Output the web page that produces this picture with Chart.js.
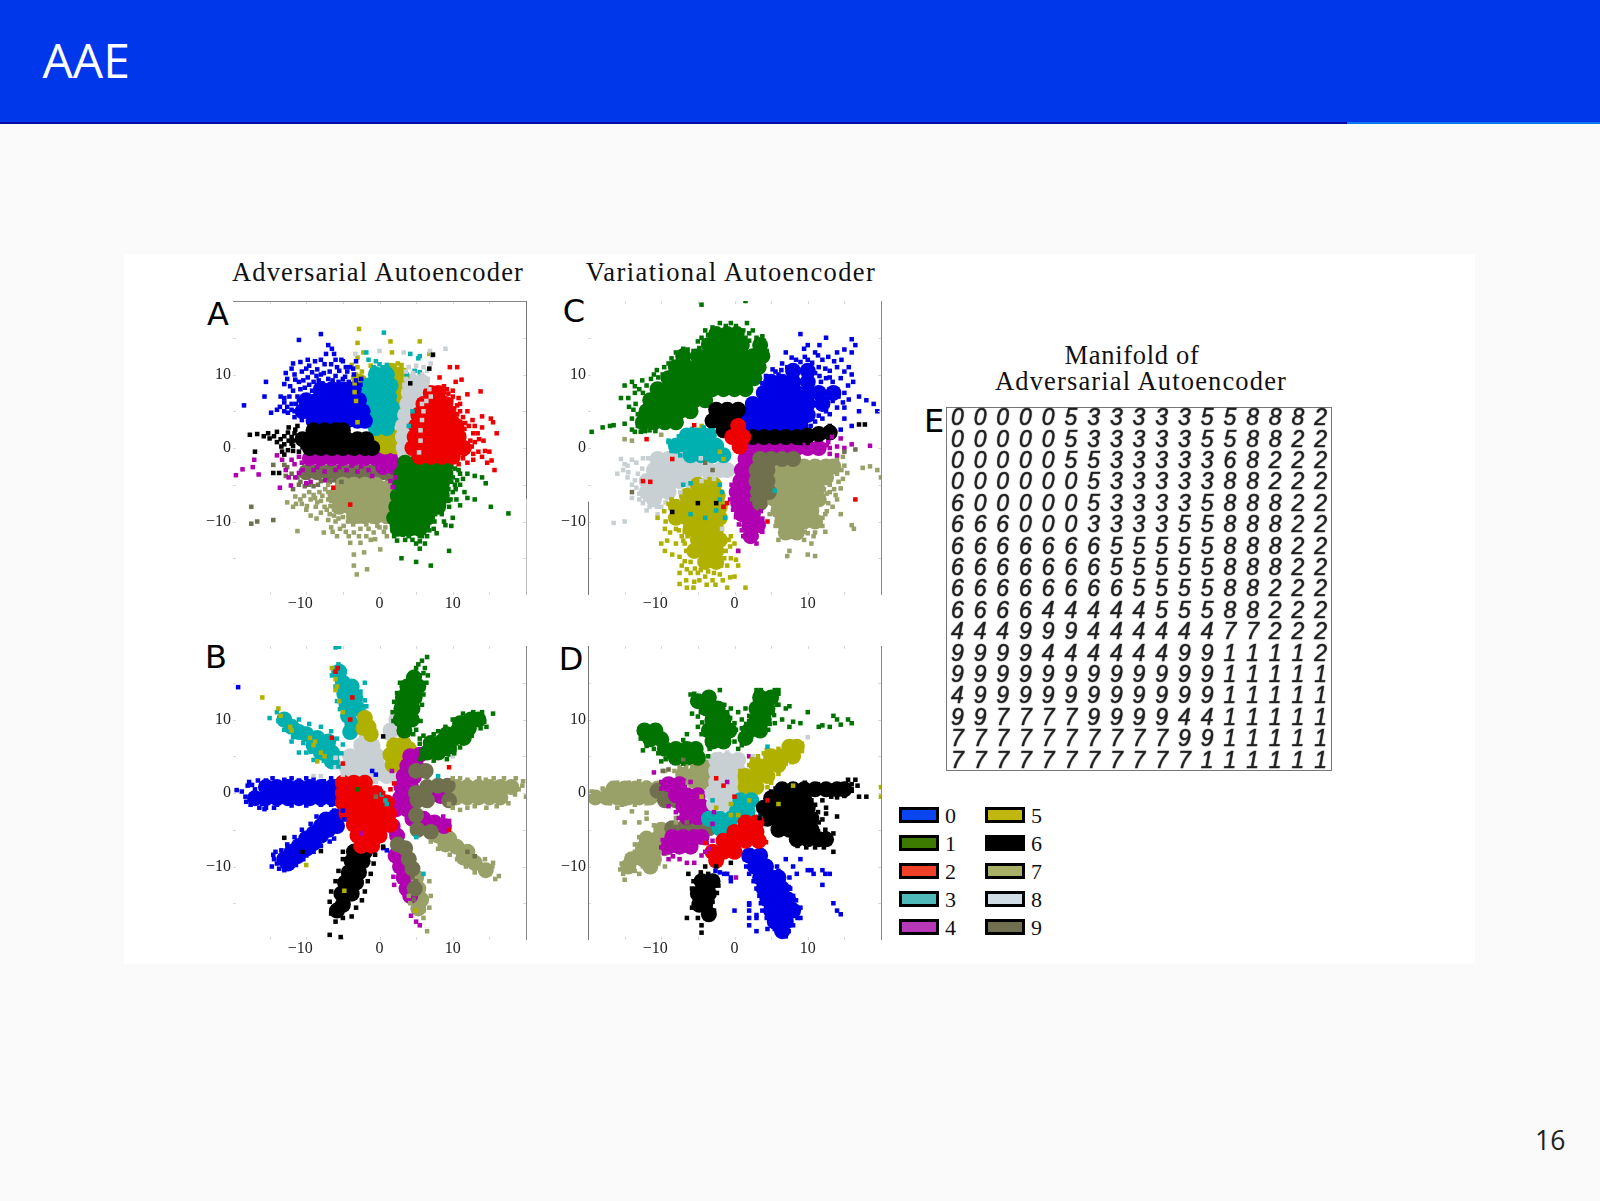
<!DOCTYPE html>
<html>
<head>
<meta charset="utf-8">
<title>AAE</title>
<script src="https://cdn.jsdelivr.net/npm/chart.js@4"></script>
<style>
  html, body { margin: 0; padding: 0; }
  body { width: 1600px; height: 1201px; background: #fafafa; position: relative; overflow: hidden; font-family: "Open Sans", sans-serif; }
  #header { position: absolute; left: 0; top: 0; width: 1600px; height: 122px; background: #0037ea; border-bottom: 2px solid #0808a8; }
  #header-accent { position: absolute; left: 1347px; top: 122px; width: 253px; height: 2px; background: #0a78f0; }
  #slide-title { position: absolute; left: 42.5px; top: 30px; color: #fff; font-size: 48px; line-height: 60px; }
  #page-number { position: absolute; left: 1535px; top: 1122px; color: #222; font-size: 26.5px; line-height: 36px; }
  #paper { position: absolute; left: 124px; top: 254px; width: 1351px; height: 710px; background: #fff; }
  canvas { position: absolute; }
  .caption { position: absolute; font-family: "Liberation Serif", serif; font-size: 26.5px; line-height: 30px; color: #111; white-space: nowrap; transform: translate(-50%, -50%); letter-spacing: 1.15px; }
  .letter { position: absolute; font-family: "DejaVu Sans", sans-serif; font-size: 32px; line-height: 36px; color: #000; transform: translate(-50%, -50%); }
  .swatch { position: absolute; width: 34px; height: 10px; border: 3px solid #000; }
  .swatch-label { position: absolute; font-family: "Liberation Serif", serif; font-size: 22px; line-height: 24px; color: #111; }
</style>
</head>
<body>
<div id="header"></div>
<div id="header-accent"></div>
<div id="slide-title">AAE</div>
<div id="paper"></div>
<div class="caption" style="left:378px;top:272px">Adversarial Autoencoder</div>
<div class="caption" style="left:731px;top:272px;letter-spacing:1.4px">Variational Autoencoder</div>
<div class="caption" style="left:1132px;top:355px;letter-spacing:0.7px">Manifold of</div>
<div class="caption" style="left:1141px;top:381px">Adversarial Autoencoder</div>
<div class="letter" style="left:218px;top:314px">A</div>
<div class="letter" style="left:216px;top:657px">B</div>
<div class="letter" style="left:574px;top:311px">C</div>
<div class="letter" style="left:571px;top:659px">D</div>
<div class="letter" style="left:934px;top:421px">E</div>
<div id="page-number">16</div>
<div id="legend"></div>
<canvas id="panelA" width="340" height="330" style="left:193px;top:296px"></canvas>
<canvas id="panelB" width="340" height="330" style="left:193px;top:641px"></canvas>
<canvas id="panelC" width="340" height="330" style="left:548px;top:296px"></canvas>
<canvas id="panelD" width="340" height="330" style="left:548px;top:641px"></canvas>
<canvas id="manifold" width="386" height="364" style="left:946px;top:407px"></canvas>
<script>
const classLabels = ['0', '1', '2', '3', '4', '5', '6', '7', '8', '9'];
const classColors = ['#0000e6', '#007300', '#ee0000', '#00b0b0', '#b000b0', '#b0b000', '#000000', '#99a068', '#c8d0d4', '#70704f'];
const legendColors = ['#0a46f0', '#3c7a00', '#f04028', '#4fb8b8', '#b838b8', '#c0b810', '#000000', '#a8b068', '#d0dce4', '#707050'];
const tickValues = [-10, 0, 10];

// panel A, adversarial autoencoder, 2D gaussian prior
const a0Core = [[-8,8],[-6.5,8],[-5,8],[-3.5,8],[-10,6.5],[-8.5,6.5],[-7,6.5],[-5.5,6.5],[-4,6.5],[-2.8,6.5],[-10.5,5],[-9,5],[-7.5,5],[-6,5],[-4.5,5],[-3,5],[-2.3,5],[-9,3.7],[-7.5,3.7],[-6,3.7],[-4.5,3.7],[-3,3.7],[-2,3.7]];
const a0Loose = [[-18.5,5.8],[-15.5,9],[-15.7,7],[-14.8,4.8],[-14,5.2],[-13.5,7],[-13,5],[-12.5,4.8],[-12.8,10.2],[-13,8.7],[-12,10.8],[-11,9],[-11.8,7.8],[-10.5,6.5],[-11.8,11.5],[-10.8,11.7],[-9.8,12],[-8.8,11.8],[-8.5,10.7],[-7.5,11.4],[-7.3,12.8],[-6.5,13.5],[-8,10],[-6,12],[-5,11.8],[-5.5,10.5],[-4,11],[-3.5,10],[-8,15.5],[-11,14.7],[-7,14],[-9,9],[-11,6.5],[-12,6],[-10.2,8.2],[-9.8,9.6],[-11.5,9.3],[-12.3,7],[-11.6,5],[-7,9.4],[-6,9.8],[-4.7,9.7],[-2.5,9.4],[-8.3,9.2],[-6.8,10.4],[-10.6,10.4],[-9.2,10.3],[-3.2,11.8],[-13,6.2]];
const a0More = [[-13,6.8],[-12.6,5.6],[-12.2,8.4],[-11.2,7],[-10.8,8],[-11.6,10],[-10.4,9.2],[-9.6,8.6],[-9.2,7.8],[-10,10.8],[-8.6,9.8],[-7.8,8.8],[-7.6,10.2],[-6.4,9.2],[-5.6,9],[-5,9.4],[-4.2,9],[-3.2,9.2],[-2.6,8.6],[-4.4,10.4],[-5.8,11],[-6.6,11.4],[-4.6,11],[-3.6,10.8],[-13.6,5.6],[-12,5.2],[-11.6,4.2],[-10.6,3.8],[-11.4,6],[-9.6,11.2],[-8,12],[-6.2,12.8],[-5.2,12],[-12.6,9.4]];
const a1Core = [[3.5,-2],[5,-2],[6.5,-2],[8,-2],[9,-2.2],[3,-3.5],[4.5,-3.5],[6,-3.5],[7.5,-3.5],[9,-3.5],[2.8,-5],[4.3,-5],[5.8,-5],[7.3,-5],[8.5,-5],[2.5,-6.5],[4,-6.5],[5.5,-6.5],[7,-6.5],[8.5,-6.5],[2.3,-8],[3.8,-8],[5.3,-8],[6.8,-8],[8,-8],[2,-9.5],[3.5,-9.5],[5,-9.5],[6.5,-9.5],[2.5,-11],[4,-11],[5.5,-11]];
const a1Loose = [[9,-5],[10,-4],[11,-3.5],[12,-3.5],[13,-3.8],[14,-4],[14.5,-4.8],[11,-5],[10,-6],[10.5,-7],[12,-6.8],[13,-7],[9.5,-8],[8.5,-9],[10,-9.5],[7.5,-10],[9,-10.5],[6,-11],[6.5,-12],[5.5,-12],[4,-11.5],[3.5,-12.5],[2,-12],[2.5,-11],[5.5,-13.7],[9.5,-14],[3,-15],[5,-15.5],[7,-16],[15.2,-8],[17.6,-8.9],[10.3,-2.8],[10.3,-5],[9.7,-7],[7.4,-11],[5.5,-12.7],[4.5,-12.5],[1.7,-10.5],[11,-7.8],[9.8,-10.6]];
const a1More = [[9.8,-2.6],[9.6,-4],[9.8,-4.6],[9.4,-5.6],[9.2,-6],[9.4,-7.2],[10.8,-3],[11.4,-4.2],[10.6,-4.4],[11.6,-6],[10.4,-5.6],[8.8,-7.6],[8.4,-8],[8.8,-10],[7.6,-9],[7.2,-8.8],[7.8,-11.6],[6.6,-10.6],[6.8,-11.2],[5.8,-12],[4.6,-11.6],[3.2,-11.8],[2.4,-12.6],[1.8,-11.2],[4,-12],[5,-13],[6.2,-13]];
const a2Core = [[7,7.5],[8,7.5],[6,6],[7.5,6],[9,6],[5.3,4.5],[6.8,4.5],[8.3,4.5],[9.5,4.5],[5,3],[6.5,3],[8,3],[9.5,3],[10.5,3],[4.8,1.5],[6.3,1.5],[7.8,1.5],[9.3,1.5],[10.8,1.5],[4.5,0],[6,0],[7.5,0],[9,0],[10.5,0],[11.5,0],[5.5,-1.2],[7,-1.2],[8.5,-1.2],[10,-1.2]];
const a2Loose = [[9.6,11],[10.6,11],[11.2,9.3],[10.4,9],[10,7.8],[12,7.3],[13.8,7.7],[11,6],[12,5],[12.7,3.8],[14,4.3],[14,2.8],[15.2,4],[15.5,3.5],[16,2],[14.2,1],[13,0.8],[13.5,-0.5],[12,-0.4],[11,1],[10.5,4],[11,3],[11.5,1.8],[15,-0.5],[15.3,-1.7],[15.7,-3],[14.7,-2],[10.5,-1.5],[12,-2],[-6.3,-5.4],[-4,-7.7],[9.8,6.5],[10.8,6.8],[10.2,5.4],[8.8,8.4],[11.7,3.4],[12.8,2],[12.4,1],[12.8,-1.6],[11.4,-1.4],[8.2,9.6]];
const a2More = [[10,7],[9.4,7.4],[9.2,8],[10.6,5.8],[11,5],[11.4,4.2],[10.6,4.6],[10.2,3.6],[11.6,2.6],[12.2,3],[11.2,2.2],[12.2,0],[12.6,0.2],[12.8,-0.8],[11.6,-0.8],[10.8,-0.6],[13,3],[13.4,2],[13.6,1.2],[14.4,-0.4],[14,-1.2],[10.8,-2.2]];
const a3Core = [[-0.5,10],[1,10],[-1.5,8.5],[0,8.5],[1.5,8.5],[-1.7,7],[-0.2,7],[1.3,7],[-1.5,5.5],[0,5.5],[1.7,5.5],[-1,4],[0.5,4],[2,4],[-0.5,2.7],[1,2.7]];
const a3Loose = [[0.6,15.7],[-1.8,13],[-1.5,12],[-0.5,11.8],[0,11.4],[4.2,12.8],[5.5,12.5],[5.3,12.2],[3.7,10],[4.8,10.5],[5.5,10.3],[4,3],[4.5,5],[-0.8,11],[1,11.3],[-0.6,10.8],[0.4,11],[-1,10.6],[1.2,10.8]];
const a4Core = [[-9.5,-1.4],[-8,-1.4],[-6.5,-1.4],[-5,-1.4],[-3.5,-1.4],[-2,-1.4],[-0.5,-1.4],[1,-1.4],[2.2,-1.4],[0.5,-2.6],[2,-2.6]];
const a4Loose = [[-19.6,-3.7],[-18.7,-2.9],[-17.1,-1.6],[-17.3,-2.6],[-16.5,-3.6],[-14,-1],[-13.3,-1.6],[-13.6,-5.4],[-12.4,-4],[-12.1,-5.1],[-11.5,-4],[-10.5,-3],[-9,-3],[-7.5,-3.2],[-6,-3],[-4.5,-3],[-3,-3.2],[-1.5,-3],[0,-3],[1.5,-4.5],[1.8,-5.3],[-8.5,-2.6],[-5.5,-2.6],[-2.5,-2.5],[-1,-3.8],[-3.8,-2.4],[2.2,-4],[-12,-1.6],[-11,-1.2],[-11.6,-2.2],[-10.6,-2],[-12.8,-3],[-11,-3.4],[-10,-4.8],[-9.4,-4.6],[-7.4,-4.4]];
const a5Core = [[-2.7,9],[-2.7,7.5],[-2.5,6],[-2.3,4.8],[1.5,10.5],[2.8,10],[2.8,8.5],[2.8,7],[2.8,5.5],[0.3,1.5],[1.8,1.5],[2.8,1.5],[0.8,0.2],[2.2,0.2],[3,0.2]];
const a5Loose = [[-2.8,16.2],[-3,14.3],[-2.2,13],[-3,12.3],[-3.8,11.3],[-3,11],[1.5,14.5],[1.7,13],[5.5,14.5],[2.5,11.5],[3,11.3],[-3.2,10],[6.8,12.8],[-1.2,11.2],[-3,3.5],[-3.4,8.8],[-3.4,7.6],[-3.2,6.4],[3.8,9.8],[3.4,10.6],[2,11.2],[-2.4,10.4],[-3.6,9.6]];
const a6Core = [[-9,2.4],[-7.5,2.4],[-6,2.4],[-5,2.4],[-10.5,1.2],[-9,1.2],[-7.5,1.2],[-6,1.2],[-4.5,1.2],[-3,1.2],[-1.8,1.2],[-9.5,0],[-8,0],[-6.5,0],[-5,0],[-3.5,0],[-2,0],[-1,0]];
const a6Loose = [[-17.7,1.8],[-16.7,1.9],[-15.2,2],[-15,1.3],[-14,2.2],[-13.5,1.2],[-13,0.5],[-12.5,2.1],[-12,1.5],[-11.8,0.3],[-12.5,-0.3],[-13.3,-0.5],[-17,-0.5],[-11,-0.5],[-10.5,0.1],[-14.5,-3.4],[-13.7,-3.4],[-1.5,-0.2],[7.3,12.7],[6.8,10.8],[4.2,8.8],[-11.5,2.5],[-11.2,3],[-0.5,0.4],[-11.8,1],[-14.4,1.6],[-14,0.8],[-13.4,0.2],[-13,1.6],[-12.4,1],[-12,0.6],[-11.6,2],[-12.4,2.8],[-11.8,-0.4],[-13,-0.9],[-15.8,1.6]];
const a7Core = [[-5,-5],[-3.5,-5],[-2,-5],[-0.5,-5],[1,-5.5],[-6,-6.5],[-4.5,-6.5],[-3,-6.5],[-1.5,-6.5],[0,-6.5],[1.2,-6.5],[-5.5,-8],[-4,-8],[-2.5,-8],[-1,-8],[0.5,-8],[1.3,-8],[-3.5,-9.3],[-2,-9.3],[-0.5,-9.3],[1,-9.3]];
const a7Loose = [[-12.6,-7.4],[-11.2,-11.3],[-10.3,-6.5],[-9.9,-7.9],[-8.5,-7.4],[-6.7,-7.9],[-7.6,-11.5],[-5.8,-12],[-4,-12.9],[-2.6,-12.9],[-2.1,-14.2],[-3.5,-14.5],[-3.5,-16],[-3.1,-17.2],[-1.7,-16.5],[0.1,-13.8],[-0.8,-11.5],[1,-12],[-4.9,-10.6],[-2.6,-11],[-0.3,-10.6],[-6.2,-9.2],[-8,-8.8],[-9.4,-9.2],[-10.8,-7],[-7.8,-6.5],[-7,-6],[-9,-6.4],[-7.5,-8],[-5.6,-9.6],[-7,-9.8],[-4.3,-10],[-3.5,-11.5],[-1.5,-11],[0.8,-10.8],[-1.2,-12.5],[-6.6,-10.8],[-8.7,-8],[-11.5,-6.6],[-7,-7]];
const a7More = [[-11.4,-7.6],[-10.6,-7.6],[-10,-8.4],[-9.4,-7],[-8.8,-6.8],[-8,-7.2],[-8.2,-6],[-7.4,-5.6],[-7,-5],[-6.6,-7.2],[-7.2,-8.4],[-6.8,-9],[-6.2,-8.4],[-6,-10],[-5,-9.4],[-5.4,-11],[-4.6,-11.4],[-3.6,-10.4],[-2.8,-10],[-1.8,-10.4],[-1,-10],[0,-10.8],[0.6,-11.4],[-2.8,-12],[-1.8,-12],[-0.6,-12.4],[-4.2,-12],[-6.4,-11.4],[-8.6,-9.6],[-11.8,-8],[-9.6,-6]];
const a8Core = [[4.5,9],[5.8,9],[4,7.5],[5.5,7.5],[6.3,7.5],[3.8,6],[5.2,6],[3.5,4.5],[4.8,4.5],[3.2,3],[4.5,3],[3.2,1.5],[4.5,1.5],[3.3,0],[4.6,0],[3.5,-0.8]];
const a8Loose = [[-3.3,12.8],[0,13.2],[3.3,13],[6.9,13.2],[7.2,12.5],[9,13.5],[4,11],[5,11.2],[6,11],[6.5,10.5],[7,11.5],[3.6,10.4],[5.8,10],[6.6,9.4],[5.8,6],[3.4,8.6],[3.6,9.4],[4.6,10.2],[6.4,8.4],[6.8,8],[7,7],[6.4,6.4],[6,5],[5.8,3.8],[5.6,2.4],[5.6,1],[5.4,-0.6]];
const a9Core = [[-10,-3.3],[-8.5,-3.3],[-7,-3.3],[-5.5,-3.3],[-4,-3.3],[-2.5,-3.3],[-1,-3.3],[0.5,-3.3],[2,-3.6],[1.8,-4.8]];
const a9Loose = [[-17.5,-8],[-17.5,-10.3],[-16.7,-10],[-14.5,-9.8],[-14.5,-2.3],[-13,-2.3],[-12,-3.5],[-11,-5],[-9,-5.2],[-8,-4.5],[-10.8,-4.6],[-6.8,-4.6],[-12.8,-3.8],[-12.6,-2.6],[-11.2,-4],[-11.8,-5.6],[-10.2,-5.2],[-9.6,-5],[-8.4,-5],[-6.2,-4.4],[-5.2,-4.6]];

// panel B, adversarial autoencoder, mixture of 10 gaussians
const b0Core = [[-15.5,0.8],[-14,0.8],[-12.5,0.8],[-11,0.8],[-9.5,0.8],[-8,0.8],[-6.5,0.8],[-5.9,0.8],[-17,-0.7],[-15.5,-0.7],[-14,-0.7],[-12.5,-0.7],[-11,-0.7],[-9.5,-0.7],[-8,-0.7],[-6.5,-0.7],[-5.9,-0.7],[-6,-3.2],[-7.3,-3.6],[-5.8,-4.5],[-8,-4.5],[-7,-5],[-9,-5.5],[-8,-5.8],[-10,-6.2],[-9,-6.8],[-11,-7.2],[-10,-7.6],[-12,-8],[-11.2,-8.6],[-13,-9],[-12.5,-9.6]];
const b0Loose = [[-18.8,0.2],[-19.5,0.4],[-17.8,1.5],[-17,0.5],[-16,-1.5],[-15.5,-2],[-15.7,-2.2],[-9,-1.2],[-7,-1.2],[-15.5,1.7],[-13,1.8],[-18.3,-0.5],[-19.3,14.4],[-14.4,-9],[-14.7,-10],[-13.7,-10.3],[-13,-10.5],[-12.5,-10.2],[-10,-8.5],[0.5,-7.5],[1,-7.8],[-0.5,2.5],[-1,3],[-11,1.7],[-9,1.8],[-7.6,1.6],[-14,-1.6],[-12,-1.7],[-10,-1.7],[-8,-1.6],[-6.6,-1.6],[-14.5,-8.4]];
const b0More = [[-18,1],[-17.4,1.1],[-16.6,1.7],[-14.6,2],[-12,2],[-10,2],[-6.6,2],[-18.2,-1.2],[-17.6,-1.6],[-16.4,-2],[-14.4,-2],[-5,-2.4],[-4.8,-3.6],[-6.2,-2.4],[-8.6,-3.2],[-9.4,-4.2],[-10.6,-5],[-11.6,-6],[-12.6,-7],[-13.4,-7.8],[-14.2,-8],[-14,-9.6],[-11.4,-9.8],[-10.4,-9],[-9,-8],[-8,-7.2],[-6.2,-6.2],[-6.8,-6.6]];
const b1Core = [[3.4,8.5],[2.9,10],[4.4,10],[3,11.5],[4.5,11.5],[3.2,13],[4.8,13],[3.8,14.5],[5.3,14.5],[4.7,15.7],[6.5,5.5],[8,5.5],[9.5,6],[7,6.8],[8.5,7],[10,7.3],[11.5,7.5],[9.2,8],[10.7,8.5],[12.2,8.8],[11,9.5],[12.5,10],[13.5,10]];
const b1Loose = [[6,16.3],[6.2,17],[5.8,18],[6.5,18.5],[14,10.3],[15.5,10.8],[-3,0.5],[5.5,16],[5.3,17.5],[5,17],[14.3,9.7],[5.5,6.7]];
const b1More = [[1.9,9.8],[1.8,11],[2,12.4],[2.4,13.6],[2.8,15],[5.8,12],[6,13.4],[6.4,15],[6.6,16],[5.6,9.8],[5,8.6],[4.6,8],[5.5,7.4],[6,7.8],[7.4,8],[8,8.4],[9,9],[10,10],[11.4,10.8],[12.8,11],[14,11],[14.6,9],[12.6,7.8],[13.8,8.8],[11,6.2],[9.2,4.6],[10.2,5.4],[7.4,4.4],[5.6,4.6]];
const b2Core = [[-5,1.4],[-3.5,1.4],[-2,1.4],[-5,0],[-3.5,0],[-2,0],[-0.5,0],[-5,-1.3],[-3.5,-1.3],[-2,-1.3],[-0.5,-1.3],[1,-1.3],[-4.5,-2.8],[-3,-2.8],[-1.5,-2.8],[0,-2.8],[1.3,-2.8],[-3.5,-4.3],[-2,-4.3],[-0.5,-4.3],[1,-4.3],[1.5,-4.3],[-3,-5.8],[-1.5,-5.8],[0,-5.8],[-2.5,-7.2],[-1,-7.2]];
const b2Loose = [[0.5,0],[1.5,0.5],[2,1.3],[-0.5,0.5],[0,0.6],[-5.7,17],[-6,16.5],[-3.7,13],[9.5,-5],[-5,4],[-6.5,7.5],[9.5,3.5],[-4,10]];
const b3Core = [[-5.5,16.5],[-5,15],[-3.8,14.5],[-4.8,13.5],[-3.3,13],[-4.5,12],[-3,11.5],[-4.3,10.5],[-3.7,9.3],[-4,8.3],[-13,10],[-12,9],[-11,8.3],[-10,8],[-8.5,7.5],[-9,6.5],[-7.5,6.5],[-8,5.5],[-6.5,5.5],[-6.5,4.3],[-7,7]];
const b3Loose = [[-6,19.8],[-5.5,19.9],[-12.8,10.5],[-15,10.2],[0.8,-1],[1,-1.5],[0.3,-0.2],[8,2.3],[-6.5,7.5],[-9,4.5],[6,-11],[5,-6],[-10,5.5],[-11,5.5],[-12,7],[-5.6,17.5]];
const b3More = [[-6.2,17],[-6.5,16],[-6,14.5],[-5.8,12.5],[-5.4,11.4],[-2,15],[-2.6,13.8],[-2,12.6],[-1.8,11.8],[-14,11],[-13.8,9.8],[-13,8.6],[-11.8,7.6],[-10.4,6.8],[-9.4,5.6],[-7.6,4.4],[-5.6,3.6],[-11,10],[-9.6,9.4],[-8,9],[-6.6,8.4],[-5.8,7.4],[-5,6.6],[-5.2,5.4]];
const b4Core = [[5.5,5.2],[4.2,5],[3.8,3.7],[5,3.7],[3.3,2.3],[4.7,2.2],[3,0.8],[4.3,0.8],[2.8,-0.7],[4,-0.7],[2.3,-2.2],[3.7,-2.2],[1.8,-4.5],[2.4,-5.8],[2.2,-8.5],[2.8,-10],[3.3,-11.5],[3.7,-13],[4.2,-14],[7,-0.3],[8.3,-0.4],[4.5,-3.5],[6,-3.5],[7.5,-4],[8.8,-4.5]];
const b4Loose = [[4.3,-16.7],[5,-17.5],[5.5,-18],[1.9,-11.4],[2,-12.5],[-2.5,-5.5],[1.7,3],[9.5,-3.8],[8.7,-3.2]];
const b5Core = [[2,6.5],[3.3,6.7],[1.5,5.2],[3,5.2],[4,6],[1.8,3.8],[3,3.8],[-2,10.2],[-1.5,9],[-2.2,8.8],[-1.2,8]];
const b5Loose = [[-16,13],[-13.8,11.5],[-13.5,10.5],[-9,6.5],[-8,5.5],[-7.5,5],[-6,15.5],[-5.8,14.5],[-6,14],[-5.5,12.5],[-5,11],[-6.5,17],[-12,8.5],[-12.2,9],[-8.5,4.3],[-10,-9.8],[5,-16],[-4.8,-13.3],[-9.5,7.5],[-8.8,7]];
const b6Core = [[-2,-8],[-3.5,-8],[-2.3,-9.3],[-3.8,-9.3],[-2.8,-10.8],[-4.2,-10.8],[-3.2,-12.2],[-4.7,-12.2],[-3.8,-13.7],[-5.2,-13.7],[-5,-15.2],[-5.8,-16]];
const b6Loose = [[-6,-17.5],[-6.8,-19.3],[-5.3,-19.6],[-13,-6.1],[-8,-7.9],[-10.5,-8],[0.5,7.7],[0.5,-7.3],[-0.6,-8.4],[-0.8,-9.6],[-1.2,-11],[-1.6,-12],[-2,-13.4],[-2.4,-14.6],[-3.2,-15.6],[-3.8,-16.8],[-5,-17],[-6.6,-16.4],[-6.8,-14.8],[-6.6,-13.4],[-6,-12],[-5.6,-10.6],[-5,-9],[-5,-8]];
const b7Core = [[10.5,0.8],[12,0.8],[13.5,0.8],[15,0.8],[16.5,0.8],[18,0.8],[10.5,-0.6],[12,-0.6],[13.5,-0.6],[15,-0.6],[16.5,-0.6],[8,-5.8],[9.5,-6.2],[9,-7],[10.5,-7.3],[12,-8],[11.5,-8.8],[13,-9.5],[14.5,-10.5],[5,-11.5],[5.3,-13],[5.7,-14.5],[5.3,-15.7]];
const b7Loose = [[15,-11],[16.3,-11.3],[15.8,-11.7],[6,-17],[6.5,-18.8],[20,-0.5],[19.5,1],[10,-2],[11,-2.3],[9.5,-1.5],[19,0.5],[18.5,-0.2],[14.5,1.8],[12,1.8],[13,-1.8],[15.5,-9.5]];
const b7More = [[10,2],[11,2],[13.6,2],[15.6,2],[17,2],[18.6,2],[19.6,1.6],[17.6,-1.4],[16,-1.8],[14.6,-2],[12,-2],[7,-6.6],[8,-7.6],[9.6,-8.4],[10.6,-9],[11.8,-10],[13,-10.8],[14.4,-9],[15.4,-10],[4,-14],[4.2,-15],[6.8,-12],[7,-14],[6.8,-15.6],[6,-16]];
const b8Core = [[-2.5,6.5],[-1,6.5],[-4,5],[-2.5,5],[-1,5],[-0.3,5],[-4.5,3.5],[-3,3.5],[-1.5,3.5],[0,3.5],[-4,2.3],[-2.5,2.3],[-1,2.3],[1,2.3],[2,2.3],[1.5,8.5],[2.7,8.7],[2.3,10],[3,11],[-2.7,11],[-3,10]];
const b8Loose = [[-9,2.3],[-8,2.3],[-6,4.8],[-6,3.5],[-5,2.5],[10,5],[0,2],[-0.5,1.5],[-2.5,7.5],[-3.2,6.8],[-0.2,6.3],[1,7.5]];
const b9Core = [[5,0],[6.5,0.8],[8,1],[9.3,1],[5.2,-1],[6.5,-1],[9.5,-1],[5,3],[6.3,3],[5,-3],[5.2,-5],[7,-5.3],[2.5,-7],[3.5,-7.5],[4,-9],[4.5,-10.3],[4.8,-13]];
const b9Loose = [[5,-12],[4.7,-14.5],[12,-8],[13,-8.6],[-0.5,-0.5],[6.5,2.2],[4.5,-11.5]];

// panel C, variational autoencoder, 2D gaussian prior
const c0Core = [[2,3],[3.5,3],[5,3],[6.5,3],[8,3],[9,3],[1.5,4.5],[3,4.5],[4.5,4.5],[6,4.5],[7.5,4.5],[9,4.5],[10,4.5],[2.5,6],[4,6],[5.5,6],[7,6],[8.5,6],[10,6],[12,6],[4,7.5],[5.5,7.5],[7,7.5],[8.5,7.5],[10,7.5],[11.5,7.5],[13.5,7.5],[5,9],[6.5,9],[8,9],[10,9],[8,10.5],[10,10.5]];
const c0Loose = [[9,15.5],[12.5,15],[16,14.8],[16,13],[14,13],[11,13],[9.5,13.5],[7,13],[6.5,11.5],[12,12],[14,11],[16,10],[14.5,9.5],[13,8],[15,7.5],[14,5.5],[15,5.5],[17,7],[18,6.5],[19,6],[19.5,5],[17,5],[15,4],[16,3],[14.5,2.5],[8,11],[10,12],[11.5,11],[12.5,9.5],[13,10.5],[9,11.7],[7.8,12.3],[3.8,8.8],[4.3,9.8],[5.2,10.7],[11.8,9],[12.5,5],[11.5,4.4],[15.5,8.5],[16.5,14]];
const c0More = [[11.6,9.8],[11,10.2],[12.4,10.8],[13.4,9],[13,9.6],[14,8],[14.2,7],[13.4,6.4],[12.8,6.8],[14.8,6.2],[15.6,6.6],[13,4.6],[12,4],[11,3.6],[10.4,3],[6,10],[5.6,10.4],[6.4,10.6],[7.2,11],[8.4,12],[9.6,12.4],[10.6,11.6],[11.4,12.6],[12.8,12.4],[13.6,11.8],[14.6,12],[15,10.4],[15.6,11],[16.2,9],[15,13.4],[10,14],[11.6,14]];
const c1Core = [[-12.5,3.5],[-11,3.5],[-9.5,3.5],[-8,3.5],[-12,5],[-10.5,5],[-9,5],[-7.5,5],[-6,5],[-11.5,6.5],[-10,6.5],[-8.5,6.5],[-7,6.5],[-5.5,6.5],[-4,6.5],[-10.5,8],[-9,8],[-7.5,8],[-6,8],[-4.5,8],[-3,8],[-1.5,8],[0,8],[1.5,8],[-9,9.5],[-7.5,9.5],[-6,9.5],[-4.5,9.5],[-3,9.5],[-1.5,9.5],[0,9.5],[1.5,9.5],[2.7,9.5],[-8,11],[-6.5,11],[-5,11],[-3.5,11],[-2,11],[-0.5,11],[1,11],[2.5,11],[3.3,11],[-7,12.5],[-5,12.5],[-3.5,12.5],[-2,12.5],[-0.5,12.5],[1,12.5],[2.5,12.5],[3.8,12.5],[-3.5,14],[-2,14],[-0.5,14],[1,14],[3.5,14],[-2.5,15.5],[-1,15.5],[0.3,15.5]];
const c1Loose = [[-15,8.5],[-14,9],[-15.5,6.8],[-14.5,6.8],[-13.5,6],[-12.5,7.5],[-12,8.5],[-11,10],[-9,11.5],[-8,13],[-7,13.5],[-6,12.5],[-5,14.5],[-4,16],[-4.5,15],[-2,17],[-0.5,17],[-4.5,19.5],[1.5,20],[1.7,17],[2.5,16],[-19.5,2.2],[-18,2.8],[-17,3],[-16.5,3.1],[-15,3.3],[-14,2.5],[-12.8,2.2],[-12.5,3.5],[-14,4],[-13.6,7.5],[-10.6,10.6],[-9.8,10],[-4,14.6],[1.5,15],[2,14.6],[-12.2,2.3],[-10.8,2.3]];
const c1More = [[-13.8,5.2],[-13.2,4.6],[-14.4,5.6],[-13,8],[-13.6,8.4],[-12.6,9.2],[-11.4,9.4],[-10.4,9.6],[-9.6,11],[-8.6,12.2],[-7.6,12.8],[-6.4,13.4],[-5.6,13.2],[-4.8,13.6],[-4.2,14.4],[-3.6,15.4],[-3,16.4],[-1.2,16.6],[0.2,16.6],[1.2,16],[2,15.6],[3,15],[3.8,15.2],[4,14.6],[4.4,13.2],[-13.2,3],[-13.6,2.2],[-11.6,2.4]];
const c2Core = [[0.5,3],[-0.3,1.5],[1.2,1.5],[0.7,0.2]];
const c2Loose = [[-12,1.2],[-12.5,-4.5],[-11.5,-4.6],[16.5,-7],[4.5,-10],[-5.5,3.1],[-8.5,-1.5],[-1.5,-8],[-1,-7.5]];
const c3Core = [[-6.5,1.7],[-5,1.7],[-3.5,1.7],[-8,0.3],[-6.5,0.3],[-5,0.3],[-3.5,0.3],[-2.5,0.3],[-6,-1],[-4.5,-1],[-3,-1],[-1.5,-1]];
const c3Loose = [[-2,-5],[-1.7,-6],[-2,-7],[-1.5,-8],[-2.5,-8.5],[-1.3,-9.5],[-7,-5],[-6,-4.8],[-4,-9.5],[-6,-9],[5.5,-5.8],[-9,0.8],[-9,1],[-8.6,-0.4],[-7.4,-1],[-7.6,1.6],[-5.8,2.6],[-4.2,2.8],[-3,2.4]];
const c4Core = [[2.5,0],[4,0],[5.5,0],[7,0],[8.5,0],[10,0],[11.5,0],[1.5,-1.5],[3,-1.5],[1,-3],[2.3,-3],[0.8,-4.5],[2,-4.5],[0.3,-6],[1.8,-6],[0.5,-7.5],[2,-7.5],[3,-7.5],[1,-9],[2.5,-9],[2,-10.5],[3.2,-10.5],[2.2,-12]];
const c4Loose = [[2,-12.5],[3,-12],[3,-13],[0.5,-14],[13,0],[14,0.2],[15,0],[16,0.5],[18.5,0.3],[13.3,1.5],[14.5,1.3],[14,-1],[-0.4,-5],[-0.6,-7],[-0.2,-8.4],[0.2,-9.4],[0.6,-10.4],[1,-11.2],[1.2,-12],[3.6,-8.6],[13,-0.8],[12.6,0.4],[12.8,0.8],[3.8,-9.6],[3.8,-11.4]];
const c5Core = [[-5,-5],[-3.5,-5],[-2.8,-5],[-6.5,-6.5],[-5,-6.5],[-3.5,-6.5],[-2.3,-6.5],[-8,-8],[-6.5,-8],[-5,-8],[-3.5,-8],[-2,-8],[-8,-9.5],[-6.5,-9.5],[-5,-9.5],[-3.5,-9.5],[-2,-9.5],[-6,-11],[-4.5,-11],[-2.5,-11],[-5,-12.5],[-3.5,-12.5],[-2,-12.5],[-5.5,-14],[-4,-14],[-2.5,-14],[-4,-15.5],[-2.5,-15.5]];
const c5Loose = [[-10.5,-9.5],[-10,-13],[-9.5,-14],[-8.5,-14.5],[-8,-13],[-7.5,-17],[-7.5,-18.5],[-6.5,-19],[-0.5,-12],[0,-13],[0.5,-14],[0.5,-16],[0,-17.5],[1.5,-19],[-1,-19],[-0.8,-12.5],[-2,-0.5],[-1.5,-1.5],[-4.5,3],[-6,-15.5],[-6.5,-16.5],[-5,-17],[-4,-17.5],[-2,-17.2],[-3,-18],[-5.5,-18.2],[-1,-16],[-0.5,-15],[-9.5,-11],[-8.8,-11.5],[-7.2,-12],[-7.5,-14.8],[-6.8,-13]];
const c5More = [[-8,-11],[-7.6,-11.2],[-6.8,-11.4],[-7,-12.6],[-6.4,-12],[-6.6,-14],[-6.8,-15.4],[-7.2,-16],[-6,-17],[-5.4,-16.4],[-4.6,-16.6],[-3.6,-16.8],[-2.8,-17],[-1.8,-16],[-1.4,-15],[-1.2,-14],[-0.6,-13.4],[-4.8,-18],[-3.8,-18.6],[-2.6,-18.6],[-1.6,-18],[-0.6,-17.6],[0.2,-15.2],[-9.4,-10],[-9.6,-8.6],[-9,-7.6],[-8.6,-7],[-5.6,-19],[-6.6,-18],[-9.2,-12.6]];
const c6Core = [[-2.5,5.2],[-1,5.2],[0.5,5.2],[-3,3.7],[-1.5,3.7],[0,3.7],[-1.5,2.4],[-0.3,2.4],[2.5,1.5],[4,1.5],[5.5,1.5],[7,1.5],[8.5,1.5],[10,1.7],[11.5,1.9],[13,2.1]];
const c6Loose = [[13,3],[17,3.2],[17.8,3.2],[9,0.7],[10,0.7],[-5,-7.5],[-8.5,-8.7],[-2.5,-7.5]];
const c7Core = [[5,-2.5],[6.5,-2.5],[8,-2.5],[9.5,-2.5],[11,-2.5],[12.5,-2.5],[13.5,-2.5],[5,-4],[6.5,-4],[8,-4],[9.5,-4],[11,-4],[12.5,-4],[5.3,-5.5],[6.8,-5.5],[8.3,-5.5],[9.8,-5.5],[11.3,-5.5],[5.5,-7],[7,-7],[8.5,-7],[10,-7],[11.5,-7],[6,-8.5],[7.5,-8.5],[9,-8.5],[10.5,-8.5],[6.5,-10],[8,-10],[9.5,-10],[11,-10],[7,-11.5],[8.5,-11.5]];
const c7Loose = [[6,-12.5],[8,-12],[9.5,-12.5],[10.5,-13],[7.5,-14],[7.2,-14.7],[10,-14.5],[11,-14.7],[12,-9.5],[14,-7],[14.5,-9],[16,-10.5],[16.3,-11],[14,-3.5],[14.5,-5.5],[13,-6],[14,-1.5],[17.5,-2.7],[18.5,-2.5],[19.5,-3],[20,-4],[-15,1.2],[-14,1],[-10,1.8],[13,-5],[12.8,-7.5],[11,-11.5],[14.8,-4.2]];
const c7More = [[12.6,-8.6],[12.4,-9],[13.4,-8],[13.8,-6.4],[14.2,-4.6],[14.6,-3],[15,-2.4],[15.4,-3.4],[14.8,-1.2],[13.6,-5.6],[12.2,-5.6],[12.6,-6.2],[12,-10.6],[12.4,-11.4],[10,-11.6],[9.6,-11.4],[10.8,-12],[6.4,-11.6],[5.6,-10.6],[5.6,-9],[4.8,-7.4],[4.8,-9]];
const c8Core = [[-10.5,-1.5],[-9,-1.5],[-7.5,-1.5],[-6,-1.5],[-11,-3],[-9.5,-3],[-8,-3],[-6.5,-3],[-5,-3],[-3.5,-3],[-2,-3],[-1,-3],[-12,-4.5],[-10.5,-4.5],[-9,-4.5],[-7.5,-4.5],[-6,-4.5],[-12,-6],[-10.5,-6],[-9,-6],[-11,-7]];
const c8Loose = [[-15.5,-1.5],[-16,-3.5],[-14.5,-3.3],[-14,-5],[-14,-6.8],[-12.5,-7.5],[-12,-8.5],[-16.5,-10.2],[-15,-10],[-10,-8],[-10.5,-9],[-1.7,-11],[-13.4,-2],[-13.2,-3.5],[-15,-2.2],[-12.5,-1.4],[-4.5,-4.5],[-13.6,-4.4],[-13.4,-5.4],[-13,-6.2],[-13,-7],[-12.2,-7],[-11.6,-8],[-10.6,-8],[-9.4,-7.4],[-8.6,-6.4],[-7.4,-6],[-14.6,-2.4],[-14,-1.6],[-15.2,-3],[-14.6,-4],[-11.8,-1.4],[-12.6,-2.8],[-4.6,-1.4],[-2.8,-4.2],[-4,-4]];
const c9Core = [[3.5,-1.5],[5,-1.5],[6.5,-1.5],[8,-1.5],[3,-3],[4.5,-3],[3,-4.5],[4.5,-4.5],[3.2,-6],[4.7,-6],[3.5,-7.5]];
const c9Loose = [[16.5,-0.2],[15,-0.5],[-14,-6],[-4,-2],[-3,-3],[5.6,-1],[7.6,-1],[5.2,-3],[2.4,-7]];

// panel D, variational autoencoder, mixture of 10 gaussians
const d0Core = [[2,-8.5],[3.5,-8.5],[2.8,-10],[4.3,-10],[3.5,-11.5],[5,-11.5],[6,-11.5],[4,-13],[5.5,-13],[6.5,-13],[4.5,-14.5],[6,-14.5],[7.3,-14.5],[5,-16],[6.5,-16],[8,-16],[5.5,-17.5],[7,-17.5],[6.5,-18.8]];
const d0Loose = [[2,-16],[2,-17],[2,-18],[4.5,-18.5],[5.5,-18.5],[7,-19.5],[-2,-10.8],[-1,-11],[-0.5,-12],[7,-9],[8,-10],[9,-9],[8.5,-11],[10,-10.5],[10.5,-10.5],[12,-10.5],[13,-11],[12,-12.5],[7.5,-13],[9,-17],[13.5,-15],[14,-16],[14.5,-16.5],[0,-16],[-0.5,-11.5],[7.5,-11.5],[8,-14],[3,-18.8],[3,-17]];
const d0More = [[1.4,-9],[1.6,-10],[2,-11],[2.6,-12],[3,-13],[3.4,-14],[3.6,-15],[3.8,-16],[4.4,-17],[7.4,-12.8],[7.6,-13],[8.4,-14.6],[9,-15.6],[8.6,-17],[8,-18],[7.4,-18.8],[5.8,-10],[6,-10.6],[-1.4,-11],[-2.6,-10.6],[2,-15.2],[3,-16.6],[2,-15],[12.4,-11],[10.8,-11]];
const d1Core = [[-12.3,8.5],[-10.8,8.5],[-11.5,7.3],[-10,7.3],[-9.5,6],[-8,6],[-8,4.8],[-6.5,4.8],[-5,4.8],[-6.5,6],[-5.3,6],[-5,12.5],[-3.5,13],[-3.8,11.5],[-2.3,11.5],[-3,10],[-1.5,10],[-3.5,8.5],[-2,8.5],[-0.7,8.5],[-3,7],[-1.5,7],[3.5,13],[5,13],[3,11.5],[4.5,11.5],[3,10],[4,10],[2,8.5],[3.5,8.5],[1.5,7.5]];
const d1Loose = [[-5.5,13.5],[-5.5,12.5],[-2,14],[-0.5,11.5],[0.5,11],[1.5,11.5],[2,10.5],[-1,9.5],[5.5,14],[6,13.5],[-2.2,6.5],[0,7],[0.5,6],[1,6.5],[-5,9],[-4.5,8],[-3.5,6.5],[5.5,9.5],[6.5,10],[7.5,9],[8,9.7],[9,9.5],[7,11.5],[7.5,11.8],[10,11],[11.5,9],[12,9.2],[13.5,10.5],[14,10],[14.5,9.3],[15.5,10],[16,9.5],[13,9],[-12.5,5.8],[-10,4.3],[-7,4],[5.8,12],[-6.5,8],[-7,7.2],[0,9.5],[1,10]];
const d1More = [[-13,8.6],[-12.8,7.4],[-12,6.4],[-11,6],[-10.4,5.4],[-9,5],[-9.4,4.6],[-4.6,5.8],[-3.6,5],[-3.4,6],[-5.8,10.8],[-5,10.4],[-4.6,11],[-4.4,9.6],[-6,13.4],[-1.4,12],[-1,11],[-0.6,10.2],[0.2,8.6],[1,8.8],[1.6,9.4],[2,9.8],[4.6,8.6],[4.8,9.4],[5.2,11],[5.6,12.6],[5.4,10.6],[6,12],[6,14],[3.6,14],[3,14]];
const d2Core = [[1.5,-4],[3,-4],[0,-5.3],[1.5,-5.3],[3,-5.3],[-1.5,-6.5],[0,-6.5],[1.5,-6.5],[3.3,-6.5],[-3,-8],[-1.5,-8],[0,-8],[-2.5,-9.2]];
const d2Loose = [[-2.5,2],[-1.5,1],[0,-0.5],[3.5,-6.8],[4.3,-6.7],[4.5,-1],[-4,-6.8]];
const d3Core = [[0.8,-1],[2.3,-1],[0.3,-2.5],[1.8,-2.5],[-3.5,-3.5],[-2,-3.5],[-0.5,-3.5],[-2,-4.8],[-0.8,-4.8]];
const d3Loose = [[4.5,6.3],[3.5,-3],[-3,-1],[-4,-3]];
const d4Core = [[-9,1.2],[-7.5,1.2],[-8,-0.3],[-6.5,-0.3],[-5,-0.3],[-7,-1.8],[-5.5,-1.8],[-4.5,-1.8],[-6.5,-3.3],[-5,-3.3],[-3.5,-3.3],[-8.5,-6],[-7,-6],[-5.5,-6],[-4.5,-6],[-9,-7.3],[-7.5,-7.3],[-6,-7.3]];
const d4Loose = [[-11,2.8],[-9,-9],[-7.5,-9],[-6.5,-9.5],[-5.5,-9.5],[-4.5,-8.5],[-4,-8],[2,5],[-3,-6.5],[0.2,-11.5],[-1,1.5],[-10,1.5],[-6,1.5],[-10,0.6],[-9,-1.8],[-8,-2.6],[-7.6,-3.4],[-2.8,-2.6],[-3,-4.2],[-9.8,-6.4],[-10,-7.4],[-9.6,-8.2],[-8.4,-8.6],[-3.8,-6.8],[-3.4,-7.6]];
const d5Core = [[1.5,0.8],[3,0.8],[1.5,2.3],[3,2.3],[4.5,2.3],[3,3.8],[4.5,3.8],[6,3.8],[5,5],[6.5,5],[8,5],[7.5,6.3],[8.5,6.3]];
const d5Loose = [[9.2,6.7],[9.2,5.7],[-4.5,-0.5],[-2.5,-2],[-0.5,-1.5],[0.5,-3],[2,-1],[-0.5,-3],[20,0.8],[20,-0.5],[8,1],[6,-1.5],[4.5,0.8],[0.8,3],[0.8,1.6],[2,3.8],[2.4,4.6],[3.2,5],[4,5.4],[4.4,5.8],[6,6],[6.8,6.4],[7,4],[7.8,4.2],[6,2.6],[5,1.4]];
const d6Core = [[6.5,0.5],[8,0.5],[9.5,0.5],[11,0.5],[12.5,0.5],[14,0.5],[15,0.5],[5,-0.7],[6.5,-0.7],[8,-0.7],[9.5,-0.7],[4,-2],[5.5,-2],[7,-2],[8.5,-2],[10,-2],[4.5,-3.5],[6,-3.5],[7.5,-3.5],[9,-3.5],[10.5,-3.5],[6,-5],[7.5,-5],[9,-5],[10.5,-5],[8.5,-6.3],[10,-6.3],[11.5,-6.3],[12.5,-6.3],[-4.5,-12],[-3,-12],[-5,-13.7],[-3.5,-13.7],[-4.8,-15.2],[-4,-15.2],[-3.5,-16.5]];
const d6Loose = [[15.5,1.8],[16.5,1.8],[16,0.5],[17,-0.5],[18,-0.5],[12.5,-2.8],[14,-3.2],[13.5,-5.5],[13.5,-8],[16,0.3],[-5,-17],[-4,-17],[-6.5,-17],[-4.5,-18],[-4.5,-19],[-6.3,-11],[-4,-10],[-2.5,-10],[-0.5,-9.5],[12,-1],[10.5,-1],[12.5,-2],[11.5,-4],[16.8,1]];
const d6More = [[5,0.2],[5.6,0.6],[13,1],[11.4,1.2],[9.6,1.4],[14,-0.6],[13.2,-0.5],[15,-0.4],[16,1.2],[15,1.2],[11,-1.6],[11.4,-2.6],[12,-3.6],[12.4,-5],[11.4,-5.2],[13,-6.8],[12.2,-7.4],[11,-7.4],[9.8,-7.4],[8.6,-7.2],[3.4,-3.4],[3.6,-2.8],[-5.6,-12],[-5.8,-13],[-2.2,-12.6],[-2.4,-13.6],[-3,-14.8],[-2.8,-16],[-5.4,-14.6],[-5.8,-15.6],[-3.6,-11],[-4.6,-10.8]];
const d7Core = [[-16.5,0.6],[-15,0.6],[-13.5,0.6],[-12,0.6],[-10.5,0.6],[-19,-0.6],[-17.5,-0.6],[-16,-0.6],[-14.5,-0.6],[-13,-0.6],[-11.5,-0.6],[-8.5,-5],[-10,-5],[-12,-6.2],[-10.5,-6.2],[-9,-6.2],[-12.5,-7.5],[-11,-7.5],[-9.5,-7.5],[-14,-9],[-12.5,-9],[-11,-9],[-14.5,-10],[-11.5,-10],[-7,2.5],[-5.5,2.5],[-4.5,2.5],[-5,3.5],[-4,3.5],[-5,1.3],[-3.5,1.3]];
const d7Loose = [[-19.5,0.2],[-15,-1.5],[-16,-2],[-14,-2.5],[-15,-4],[-12,-2.7],[-12,-3.5],[-13,-4],[-14,-9],[-14.5,-10],[-15,-11.8],[-13.3,-9],[-9.5,-10],[-12.5,-10],[-9.5,3],[-7.5,3.5],[-15.2,-11],[-13.6,-10.6],[-13,-11]];
const d7More = [[-16,1.4],[-14.4,1.4],[-13,1.6],[-12,1.4],[-18,0.6],[-17.4,0.4],[-19.6,-1],[-17,-1.4],[-15.4,-1.6],[-13.6,-1.6],[-12,-1.4],[-13,-6],[-13.6,-7],[-13.6,-8],[-14.6,-8.6],[-15.4,-9.6],[-15.6,-10.4],[-10.4,-9.6],[-8.4,-8.6],[-11,-4.4],[-8,-3.4],[-8,-4],[-8.2,3],[-6.6,3.6],[-6,1],[-6.4,1.4]];
const d8Core = [[-2.5,4.5],[-1,4.5],[0.5,4.5],[-2.5,3],[-1,3],[0.5,3],[-2.5,1.5],[-1,1.5],[0.5,1.5],[-3,0],[-1.5,0],[0,0],[-2.8,-1.5],[-1.3,-1.5]];
const d8Loose = [[10,7.6],[2.5,5],[-3.5,5],[-1,5.5],[-2,5.3]];
const d9Core = [[-10.5,0.3],[-9.5,0.3],[-9.5,-1],[-8,-1],[-8.5,-4.8],[-7,-4.8],[-5.5,-4.8],[-4,-4.8],[-3.5,-4.8]];
const d9Loose = [[-9.8,3],[-9,3.2],[-10,-1],[-7,4.5],[-6.5,-4]];

// digits, top row first
const manifoldRows = [
  '00000533333558882',
  '00000533333558822',
  '00000553333368222',
  '00000053333388222',
  '60000053333588822',
  '66600033335588822',
  '66666665555588822',
  '66666665555588822',
  '66666666555588222',
  '66664444455588222',
  '44499944444477222',
  '99994444449911112',
  '99999999999911111',
  '49999999999911111',
  '99777799994411111',
  '77777777779911111',
  '77777777777111111'
];

// inward tick marks and the pieces of frame that survive in the figure
const panelFrame = {
  id: 'panelFrame',
  afterDraw(chart, args, opts) {
    const ctx = chart.ctx;
    const x = chart.scales.x;
    const y = chart.scales.y;
    const area = chart.chartArea;
    ctx.save();
    ctx.lineWidth = 1;
    ctx.strokeStyle = '#d8d8d8';
    [-15, -10, -5, 0, 5, 10, 15].forEach((v) => {
      const px = Math.round(x.getPixelForValue(v)) + 0.5;
      const py = Math.round(y.getPixelForValue(v)) + 0.5;
      ctx.beginPath();
      ctx.moveTo(px, area.top);
      ctx.lineTo(px, area.top + 3);
      ctx.moveTo(px, area.bottom);
      ctx.lineTo(px, area.bottom - 3);
      ctx.moveTo(area.left, py);
      ctx.lineTo(area.left + 3, py);
      ctx.moveTo(area.right, py);
      ctx.lineTo(area.right - 3, py);
      ctx.stroke();
    });
    opts.lines.forEach((l) => {
      ctx.strokeStyle = l.color;
      ctx.beginPath();
      if (l.side === 'top') {
        ctx.moveTo(area.left, area.top + 0.5);
        ctx.lineTo(area.right, area.top + 0.5);
      } else {
        const px = (l.side === 'left' ? area.left : area.right) + 0.5;
        ctx.moveTo(px, y.getPixelForValue(l.from));
        ctx.lineTo(px, y.getPixelForValue(l.to));
      }
      ctx.stroke();
    });
    ctx.restore();
  }
};

function tickLabel(value) {
  if (!tickValues.includes(value)) {
    return '';
  }
  return value < 0 ? '\u2212' + Math.abs(value) : String(value);
}

function drawPanel(id, core, loose, paintOrder, lines) {
  const datasets = [];
  paintOrder.forEach((c) => {
    datasets.push({ label: classLabels[c], data: core[c], backgroundColor: classColors[c], pointRadius: 8, pointBorderWidth: 0 });
  });
  paintOrder.forEach((c) => {
    datasets.push({ label: classLabels[c], data: loose[c], backgroundColor: classColors[c], pointStyle: 'rect', pointRadius: 3.2, pointBorderWidth: 0 });
  });
  // chart.js paints the first dataset last
  datasets.reverse();
  const axisFont = { family: '"Liberation Serif", serif', size: 16 };
  new Chart(document.getElementById(id), {
    type: 'scatter',
    data: { datasets: datasets },
    plugins: [panelFrame],
    options: {
      responsive: false,
      animation: false,
      devicePixelRatio: 1,
      layout: { autoPadding: false, padding: { top: 5, right: 7, left: 0, bottom: 0 } },
      plugins: { legend: { display: false }, tooltip: { enabled: false }, panelFrame: { lines: lines } },
      scales: {
        x: {
          type: 'linear', min: -20, max: 20,
          grid: { display: false, drawTicks: false }, border: { display: false },
          // fixed box, no room kept for half labels at the ends
          afterFit: (scale) => { scale.height = 31; scale.paddingLeft = 0; scale.paddingRight = 0; },
          ticks: {
            stepSize: 5, autoSkip: false, maxRotation: 0, padding: -1, color: '#222', font: axisFont,
            // the figure centres the digits, so the minus hangs to the left
            callback: (value) => tickLabel(value) + (value === -10 ? '\u00a0\u00a0\u00a0' : '')
          }
        },
        y: {
          type: 'linear', min: -20, max: 20,
          grid: { display: false, drawTicks: false }, border: { display: false },
          afterFit: (scale) => { scale.width = 40; scale.paddingTop = 0; scale.paddingBottom = 0; },
          ticks: { stepSize: 5, autoSkip: false, padding: 2, color: '#222', font: axisFont, callback: tickLabel }
        }
      }
    }
  });
}

drawPanel('panelA',
  [a0Core, a1Core, a2Core, a3Core, a4Core, a5Core, a6Core, a7Core, a8Core, a9Core],
  [a0Loose.concat(a0More), a1Loose.concat(a1More), a2Loose.concat(a2More), a3Loose, a4Loose, a5Loose, a6Loose, a7Loose.concat(a7More), a8Loose, a9Loose],
  [9, 7, 4, 5, 3, 8, 0, 6, 1, 2],
  [{ side: 'top', color: '#888' }, { side: 'right', from: 20, to: -7, color: '#777' }, { side: 'right', from: -7, to: -20, color: '#bbb' }]);
drawPanel('panelB',
  [b0Core, b1Core, b2Core, b3Core, b4Core, b5Core, b6Core, b7Core, b8Core, b9Core],
  [b0Loose.concat(b0More), b1Loose.concat(b1More), b2Loose, b3Loose.concat(b3More), b4Loose, b5Loose, b6Loose, b7Loose.concat(b7More), b8Loose, b9Loose],
  [7, 8, 3, 5, 4, 9, 0, 1, 6, 2],
  [{ side: 'right', from: 20, to: -20, color: '#888' }]);
drawPanel('panelC',
  [c0Core, c1Core, c2Core, c3Core, c4Core, c5Core, c6Core, c7Core, c8Core, c9Core],
  [c0Loose.concat(c0More), c1Loose.concat(c1More), c2Loose, c3Loose, c4Loose, c5Loose.concat(c5More), c6Loose, c7Loose.concat(c7More), c8Loose, c9Loose],
  [8, 7, 5, 3, 4, 9, 1, 0, 6, 2],
  [{ side: 'left', from: -7.3, to: -20, color: '#777' }, { side: 'right', from: 20, to: -20, color: '#888' }]);
drawPanel('panelD',
  [d0Core, d1Core, d2Core, d3Core, d4Core, d5Core, d6Core, d7Core, d8Core, d9Core],
  [d0Loose.concat(d0More), d1Loose.concat(d1More), d2Loose, d3Loose, d4Loose, d5Loose, d6Loose.concat(d6More), d7Loose.concat(d7More), d8Loose, d9Loose],
  [7, 9, 4, 8, 5, 3, 1, 6, 0, 2],
  [{ side: 'left', from: 20, to: -20, color: '#777' }, { side: 'right', from: 20, to: -20, color: '#888' }]);

// the manifold is a scatter of 17x17 cells, each point painted as its digit
const manifoldDigits = {
  id: 'manifoldDigits',
  afterDatasetsDraw(chart) {
    const ctx = chart.ctx;
    const area = chart.chartArea;
    ctx.save();
    ctx.strokeStyle = '#777';
    ctx.lineWidth = 1;
    ctx.strokeRect(area.left + 0.5, area.top + 0.5, area.width - 1, area.height - 1);
    ctx.font = 'italic 23px "Liberation Sans", sans-serif';
    ctx.textAlign = 'center';
    ctx.textBaseline = 'middle';
    ctx.fillStyle = '#222';
    ctx.strokeStyle = 'rgba(30,30,30,0.6)';
    ctx.lineWidth = 0.6;
    ctx.shadowColor = 'rgba(0,0,0,0.4)';
    ctx.shadowBlur = 1.5;
    chart.getDatasetMeta(0).data.forEach((pt, i) => {
      const digit = chart.data.datasets[0].data[i].digit;
      ctx.fillText(digit, pt.x, pt.y + 1);
      ctx.strokeText(digit, pt.x, pt.y + 1);
    });
    ctx.restore();
  }
};

const manifoldPoints = [];
manifoldRows.forEach((row, r) => {
  row.split('').forEach((digit, c) => {
    manifoldPoints.push({ x: c + 0.5, y: r + 0.5, digit: digit });
  });
});

new Chart(document.getElementById('manifold'), {
  type: 'scatter',
  data: { datasets: [{ data: manifoldPoints, pointRadius: 0 }] },
  plugins: [manifoldDigits],
  options: {
    responsive: false,
    animation: false,
    devicePixelRatio: 1,
    layout: { autoPadding: false },
    plugins: { legend: { display: false }, tooltip: { enabled: false } },
    scales: {
      x: { type: 'linear', min: 0, max: 17, display: false },
      y: { type: 'linear', min: 0, max: 17, reverse: true, display: false }
    }
  }
});

// legend, two columns of five
const legend = document.getElementById('legend');
classLabels.forEach((label, i) => {
  const col = Math.floor(i / 5);
  const row = i % 5;
  const box = document.createElement('div');
  box.className = 'swatch';
  box.style.left = (899 + col * 86) + 'px';
  box.style.top = (807 + row * 27.9) + 'px';
  box.style.background = legendColors[i];
  legend.appendChild(box);
  const text = document.createElement('div');
  text.className = 'swatch-label';
  text.textContent = label;
  text.style.left = (945 + col * 86) + 'px';
  text.style.top = (804 + row * 27.9) + 'px';
  legend.appendChild(text);
});
</script>
</body>
</html>
